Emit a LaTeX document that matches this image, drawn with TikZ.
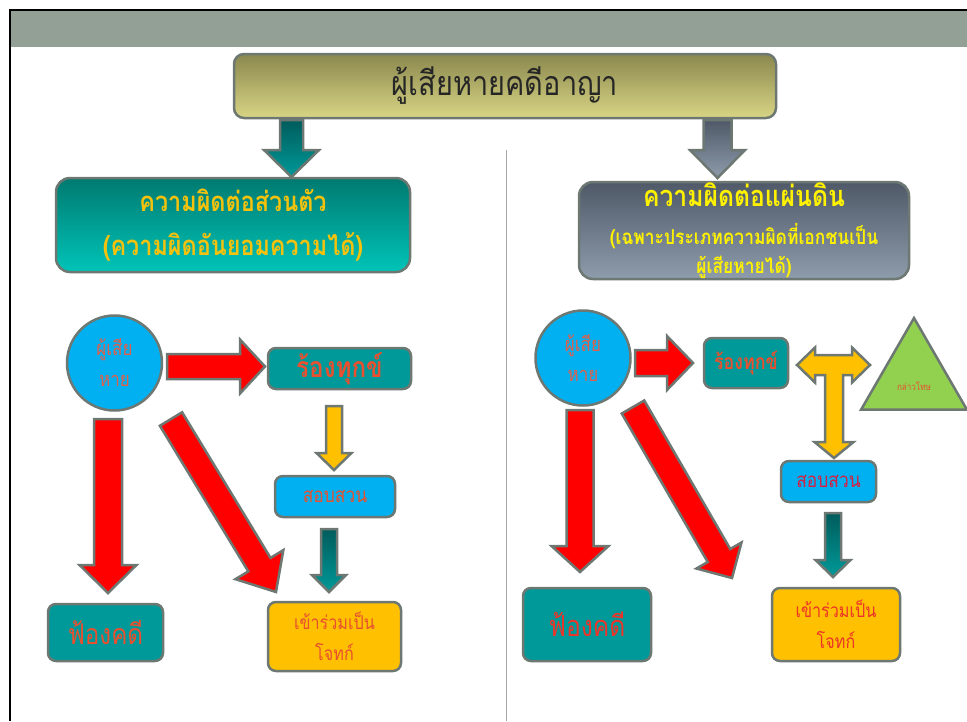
\documentclass[tikz,border=0pt]{standalone}
\usepackage{fontspec}
\usetikzlibrary{calc,shapes.geometric}
\newfontfamily\thai[Script=Thai,FakeStretch=0.85]{Loma}

\definecolor{band}{HTML}{93A096}
\definecolor{edge}{HTML}{6E7872}
\definecolor{boxteal}{HTML}{009999}
\definecolor{skyblue}{HTML}{00B0F0}
\definecolor{amber}{HTML}{FFC000}
\definecolor{leafgreen}{HTML}{92D050}
\definecolor{arrowred}{HTML}{FF0000}
\definecolor{gold}{HTML}{F4C20D}
\definecolor{lemon}{HTML}{FFF200}
\definecolor{txtorange}{HTML}{E8502F}
\definecolor{txtsalmon}{HTML}{E0604C}
\definecolor{txtred}{HTML}{EE3328}
\definecolor{txtcrimson}{HTML}{D42045}
\definecolor{olivetop}{HTML}{8A884E}
\definecolor{olivebot}{HTML}{D9D585}
\definecolor{tealtop}{HTML}{007A70}
\definecolor{tealbot}{HTML}{00C4B8}
\definecolor{slatetop}{HTML}{4F5968}
\definecolor{slatebot}{HTML}{8E9CAC}

% fat arrow: [style]{from}{to}{half shaft}{half head}{head length}
\newcommand{\fatarrow}[6][]{%
  \coordinate (fb) at ($(#3)!#6!(#2)$);
  \draw[#1] ($(#2)!#4!90:(#3)$) -- ($(fb)!#4!90:(#3)$) -- ($(fb)!#5!90:(#3)$) -- (#3)
    -- ($(fb)!#5!-90:(#3)$) -- ($(fb)!#4!-90:(#3)$) -- ($(#2)!#4!-90:(#3)$) -- cycle;}

\begin{document}
\begin{tikzpicture}
    [x=1pt, y=-1pt,
    %%%%%%%%%%%%%%%%%%%%%%%%%%%%%%
        box/.style={rectangle, rounded corners=8pt, draw=edge, line width=2.5pt, inner sep=0pt, align=center},
        tealbox/.style={box, fill=boxteal},
        bluebox/.style={box, fill=skyblue},
        amberbox/.style={box, fill=amber},
        head/.style={box, rounded corners=14pt, font=\thai\bfseries},
        redarrow/.style={draw=edge, line width=2.5pt, fill=arrowred},
        yelarrow/.style={draw=edge, line width=2.5pt, fill=amber},
        tealarrow/.style={draw=edge, line width=2.5pt, top color=black!40!boxteal, bottom color=boxteal},
        greyarrow/.style={draw=edge, line width=2.5pt, top color=slatetop, bottom color=slatebot},
    ]%%%%%%%%%%%%%%%%%%%%%%%%%%%%%%

\useasboundingbox (0,0) rectangle (967,721);

% slide frame
\fill[band] (11,11) rectangle (967,47);
\draw[line width=2pt] (10,721) -- (10,10) -- (967,10);
\draw[gray!70, line width=0.8pt] (506,150) -- (506,721);

% title and headings
\node[box, rounded corners=10pt, top color=olivetop, bottom color=olivebot,
      minimum width=542pt, minimum height=64pt, font=\thai\fontsize{34}{34}\selectfont, text=black!85]
      (ttl) at (505,86) {ผู้เสียหายคดีอาญา};
\node[head, top color=tealtop, bottom color=tealbot, minimum width=354pt, minimum height=94pt,
      font=\thai\bfseries\fontsize{27.5}{44}\selectfont, text=gold]
      (hdL) at (233,225) {ความผิดต่อส่วนตัว\\(ความผิดอันยอมความได้)};
\node[head, top color=slatetop, bottom color=slatebot, minimum width=330pt, minimum height=97pt,
      font=\thai\bfseries\fontsize{20.5}{29}\selectfont, text=lemon]
      (hdR) at (744,230.5) {{\fontsize{29}{29}\selectfont ความผิดต่อแผ่นดิน}\\[9pt](เฉพาะประเภทความผิดที่เอกชนเป็น\\ผู้เสียหายได้)};

% left side
\node[circle, draw=edge, line width=2.5pt, fill=skyblue, minimum size=95pt, inner sep=0pt, align=center,
      font=\thai\fontsize{20}{31}\selectfont, text=txtsalmon] (vicL) at (114.5,363) {ผู้เสีย\\หาย};
\node[tealbox, minimum width=143pt, minimum height=41pt, font=\thai\bfseries\fontsize{28.5}{28.5}\selectfont, text=txtorange]
      (sueL) at (339.5,368.5) {ร้องทุกข์};
\node[bluebox, minimum width=120pt, minimum height=41pt, font=\thai\fontsize{20.5}{20.5}\selectfont, text=txtorange]
      (askL) at (335,496.5) {สอบสวน};
\node[amberbox, minimum width=133pt, minimum height=69pt, font=\thai\fontsize{19}{31}\selectfont, text=txtorange]
      (joinL) at (334.5,636.5) {เข้าร่วมเป็น\\โจทก์};
\node[tealbox, minimum width=115pt, minimum height=57pt, font=\thai\fontsize{28.5}{28.5}\selectfont, text=txtorange]
      (courtL) at (105.5,632.5) {ฟ้องคดี};

% right side
\node[circle, draw=edge, line width=2.5pt, fill=skyblue, minimum size=95pt, inner sep=0pt, align=center,
      font=\thai\fontsize{20}{30}\selectfont, text=txtsalmon] (vicR) at (583,358) {ผู้เสีย\\หาย};
\node[tealbox, minimum width=84pt, minimum height=50pt, font=\thai\bfseries\fontsize{21}{21}\selectfont, text=txtorange]
      (sueR) at (746,363) {ร้องทุกข์};
\node[regular polygon, regular polygon sides=3, draw=edge, line width=2.5pt, fill=leafgreen, minimum size=122pt, inner sep=0pt]
      (accR) at (914,379) {};
\node[font=\thai\fontsize{9.5}{9.5}\selectfont, text=txtorange] (accRtxt) at (914,386) {กล่าวโทษ};
\node[bluebox, minimum width=95pt, minimum height=41pt, font=\thai\fontsize{20.5}{20.5}\selectfont, text=txtcrimson]
      (askR) at (828.5,481.5) {สอบสวน};
\node[amberbox, minimum width=128pt, minimum height=73pt, font=\thai\fontsize{19}{31}\selectfont, text=txtred]
      (joinR) at (836,624.5) {เข้าร่วมเป็น\\โจทก์};
\node[tealbox, minimum width=128pt, minimum height=73pt, font=\thai\fontsize{29}{29}\selectfont, text=txtred]
      (courtR) at (587,624.5) {ฟ้องคดี};

% arrow ends
\coordinate (ttlA) at (291.5,120);  \coordinate (hdLA) at (291.5,177);
\coordinate (ttlB) at (717.5,120);  \coordinate (hdRB) at (717.5,178);
\coordinate (vicLa) at (167,366.5); \coordinate (sueLa) at (265,366.5);
\coordinate (vicLb) at (108,419);   \coordinate (courtLb) at (108,593);
\coordinate (vicLc) at (171,419);   \coordinate (joinLc) at (276,592);
\coordinate (sueLd) at (334,406);   \coordinate (askLd) at (334,470);
\coordinate (askLe) at (329,529);   \coordinate (joinLe) at (329,592);
\coordinate (vicRa) at (635,363);   \coordinate (sueRa) at (693,363);
\coordinate (vicRb) at (580,410);   \coordinate (courtRb) at (580,572);
\coordinate (vicRc) at (633,407);   \coordinate (joinRc) at (732,578);
\coordinate (askRe) at (833,513);   \coordinate (joinRe) at (833,577);

\fatarrow[tealarrow]{ttlA}{hdLA}{11.5pt}{27.5pt}{27pt}
\fatarrow[greyarrow]{ttlB}{hdRB}{14pt}{27.5pt}{28pt}

\foreach \a/\b/\w/\h/\l in {vicLa/sueLa/12.5pt/27pt/25pt, vicLb/courtLb/14pt/28.5pt/28pt,
    vicLc/joinLc/13pt/28pt/32pt, vicRa/sueRa/13pt/27pt/26pt,
    vicRb/courtRb/13.5pt/28.5pt/26pt, vicRc/joinRc/13pt/26pt/26pt}
    \fatarrow[redarrow]{\a}{\b}{\w}{\h}{\l};

\fatarrow[yelarrow]{sueLd}{askLd}{8pt}{17.5pt}{17pt}
\fatarrow[tealarrow]{askLe}{joinLe}{8pt}{17pt}{17pt}
\fatarrow[tealarrow]{askRe}{joinRe}{8pt}{17.5pt}{17pt}

% three way arrow between sueR, accR and askR
\draw[yelarrow] (797,365) -- (815,347.5) -- (815,355) -- (852,355) -- (852,347.5) -- (870,365)
    -- (852,382.5) -- (852,375) -- (843,375) -- (843,442) -- (853.5,442) -- (834,458)
    -- (814.5,442) -- (825,442) -- (825,375) -- (815,375) -- (815,382.5) -- cycle;
\end{tikzpicture}
\end{document}
